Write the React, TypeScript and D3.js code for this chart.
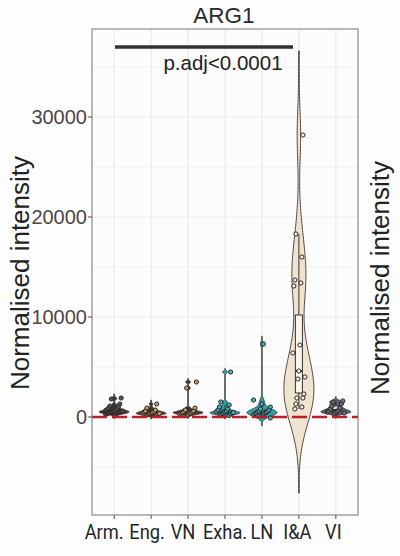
import React from "react";
import * as d3 from "d3";

// categories and per-group values
const categories = ["Arm.", "Eng.", "VN", "Exha.", "LN", "I&A", "VI"];

const armValues = [250, 300, 350, 400, 400, 450, 450, 500, 500, 550, 550, 600, 600, 650, 700, 750, 800, 900, 1000, 1100, 1300, 1800, 1900];
const engValues = [200, 250, 300, 300, 350, 350, 400, 400, 450, 500, 550, 600, 700, 900, 1300];
const vnValues = [200, 300, 350, 400, 400, 450, 500, 550, 600, 700, 900, 2900, 3500];
const exhaValues = [150, 250, 300, 350, 400, 400, 450, 500, 550, 600, 700, 800, 1000, 1200, 1500, 4500];
const lnValues = [-100, 100, 200, 300, 350, 400, 400, 450, 500, 550, 600, 700, 800, 1000, 1300, 1700, 7300];
const iaValues = [800, 1000, 1300, 1900, 1900, 2300, 3800, 4000, 4600, 6400, 7200, 13100, 13400, 13700, 16000, 18300, 28200];
const viValues = [300, 400, 450, 500, 550, 600, 700, 800, 900, 1100, 1300, 1500, 1600];

const groupValues = [armValues, engValues, vnValues, exhaValues, lnValues, iaValues, viValues];
const bandwidths = [130, 130, 110, 110, 260, 2800, 140];

// box summary
const boxQ1 = [400, 300, 350, 350, 300, 2400, 500];
const boxMedian = [550, 400, 450, 450, 450, 4600, 700];
const boxQ3 = [750, 550, 600, 700, 700, 10200, 1100];
const whiskerLow = [250, 200, 200, 150, -100, 800, 300];
const whiskerHigh = [1300, 900, 900, 1200, 1300, 18300, 1600];

const yTicks = [0, 10000, 20000, 30000];
const yMinor = [-5000, 5000, 15000, 25000, 35000];

const violinFill = ["#3e3634", "#413733", "#3e3634", "#2b9fa6", "#29a3a7", "#efe5cf", "#55606a"];
const pointFill = ["#5a5250", "#c49a5c", "#c49a5c", "#3fb4ba", "#3fb4ba", "#f6f0e4", "#6b7782"];

const W = 400;
const H = 556;
const panel = { left: 92, right: 358, top: 29, bottom: 515 };
// the x labels sit a little left of their ticks in the original
const xLabelNudge = [-10, -4, -5, 0, 0, -1.5, -2.5];

export default function App() {
  const x = d3
    .scalePoint<string>()
    .domain(categories)
    .range([panel.left, panel.right])
    .padding(0.6);
  const y = d3.scaleLinear().domain([-9800, 38800]).range([panel.bottom, panel.top]);
  const halfMax = 15;

  const violins = groupValues.map((vals, gi) => {
    const bw = bandwidths[gi];
    const lo = d3.min(vals)! - 3 * bw;
    const hi = d3.max(vals)! + 3 * bw;
    const n = 300;
    const grid = d3.range(n + 1).map((k) => lo + ((hi - lo) * k) / n);
    const dens = grid.map((g) => ({
      v: g,
      d: d3.sum(vals, (v) => Math.exp(-0.5 * ((g - v) / bw) ** 2)),
    }));
    const maxD = d3.max(dens, (p) => p.d)!;
    const cx = x(categories[gi])!;
    const area = d3
      .area<{ v: number; d: number }>()
      .y((p) => y(p.v))
      .x0((p) => cx - Math.max(0.4, (p.d / maxD) * halfMax))
      .x1((p) => cx + Math.max(0.4, (p.d / maxD) * halfMax));
    return area(dens)!;
  });

  const font = "'Liberation Sans', Arial, sans-serif";

  return (
    <svg
      width={W}
      height={H}
      style={{ position: "absolute", left: 0, top: 0, background: "#fdfdfd" }}
    >
      <rect x={panel.left} y={panel.top} width={panel.right - panel.left} height={panel.bottom - panel.top} fill="#fcfcfd" />
      {/* grid */}
      {yMinor.map((t) => (
        <line key={"mn" + t} x1={panel.left} x2={panel.right} y1={y(t)} y2={y(t)} stroke="#f1f1f3" strokeWidth={1} />
      ))}
      {yTicks.map((t) => (
        <line key={"mj" + t} x1={panel.left} x2={panel.right} y1={y(t)} y2={y(t)} stroke="#ebebee" strokeWidth={1.2} />
      ))}
      {categories.map((c) => (
        <line key={"vg" + c} x1={x(c)} x2={x(c)} y1={panel.top} y2={panel.bottom} stroke="#ebebee" strokeWidth={1.2} />
      ))}

      {/* violins */}
      {violins.map((p, i) => (
        <path key={"v" + i} d={p} fill={violinFill[i]} stroke="#4d4343" strokeWidth={1} />
      ))}

      {/* boxes */}
      {categories.map((c, i) => {
        const cx = x(c)!;
        const bw = i === 5 ? 3.5 : 3;
        return (
          <g key={"b" + c} stroke="#3a3232" strokeWidth={1}>
            <line x1={cx} x2={cx} y1={y(boxQ3[i])} y2={y(whiskerHigh[i])} />
            <line x1={cx} x2={cx} y1={y(boxQ1[i])} y2={y(whiskerLow[i])} />
            <rect
              x={cx - bw}
              y={y(boxQ3[i])}
              width={bw * 2}
              height={y(boxQ1[i]) - y(boxQ3[i])}
              fill={i === 5 ? "#faf6ee" : "#d8d8d8"}
            />
            <line x1={cx - bw} x2={cx + bw} y1={y(boxMedian[i])} y2={y(boxMedian[i])} strokeWidth={2} />
          </g>
        );
      })}

      {/* points */}
      {groupValues.map((vals, gi) =>
        vals.map((v, i) => {
          const off = (((i * 7 + gi * 3) % 13) - 6) * (gi === 5 ? 1.0 : 1.4);
          return (
            <circle
              key={`p${gi}-${i}`}
              cx={x(categories[gi])! + off}
              cy={y(v)}
              r={2.1}
              fill={pointFill[gi]}
              stroke="#2b2626"
              strokeWidth={1}
            />
          );
        })
      )}

      {/* zero reference line */}
      <line
        x1={panel.left}
        x2={panel.right}
        y1={y(0)}
        y2={y(0)}
        stroke="#b8202a"
        strokeWidth={2.5}
        strokeDasharray="15 5"
      />

      {/* panel border */}
      <rect
        x={panel.left}
        y={panel.top}
        width={panel.right - panel.left}
        height={panel.bottom - panel.top}
        fill="none"
        stroke="#7d7171"
        strokeWidth={1}
      />

      {/* y axis */}
      {yTicks.map((t) => (
        <g key={"yt" + t}>
          <line x1={panel.left - 4} x2={panel.left} y1={y(t)} y2={y(t)} stroke="#5a5050" />
          <text x={panel.left - 5} y={y(t)} dy="0.36em" textAnchor="end" fontFamily={font} fontSize={20} fill="#4d4545">
            {t}
          </text>
        </g>
      ))}

      {/* x axis */}
      {categories.map((c, i) => (
        <g key={"xt" + c}>
          <line x1={x(c)} x2={x(c)} y1={panel.bottom} y2={panel.bottom + 4} stroke="#5a5050" />
          <text
            transform={`translate(${x(c)! + xLabelNudge[i]},539) scale(0.87,1)`}
            textAnchor="middle"
            fontFamily="Roboto, sans-serif"
            fontSize={21}
            fill="#262626"
          >
            {c}
          </text>
        </g>
      ))}

      {/* significance bar */}
      <line x1={115} x2={293} y1={47} y2={47} stroke="#333333" strokeWidth={3.5} />
      <text x={223} y={70} textAnchor="middle" fontFamily={font} fontSize={20.5} fill="#222">
        p.adj&lt;0.0001
      </text>

      {/* title */}
      <text x={224} y={23} textAnchor="middle" fontFamily={font} fontSize={22.5} fill="#2a2a2a">
        ARG1
      </text>

      {/* axis titles */}
      <text
        transform={`translate(29,${273}) rotate(-90)`}
        textAnchor="middle"
        fontFamily={font}
        fontSize={26}
        fill="#222"
      >
        Normalised intensity
      </text>
      <text
        transform={`translate(389,${278}) rotate(-90)`}
        textAnchor="middle"
        fontFamily={font}
        fontSize={26}
        fill="#222"
      >
        Normalised intensity
      </text>
    </svg>
  );
}
